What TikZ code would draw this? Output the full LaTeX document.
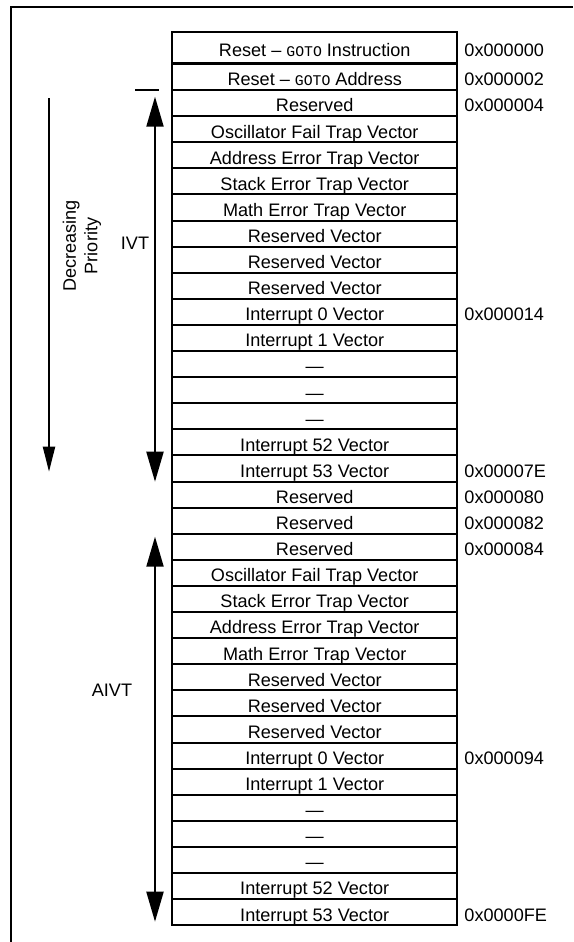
\documentclass[tikz,border=0pt]{standalone}
\usepackage{fontspec}
\setmainfont{Liberation Sans}
\newfontfamily\codefont{Liberation Mono}
\usetikzlibrary{arrows.meta}

\newcommand{\gotoword}{{\codefont\fontsize{7.4}{8}\selectfont GOTO}}

\tikzset{
	every node/.style={font=\fontsize{9.05}{10.8}\selectfont},
	slot/.style={draw, line width=1pt, minimum width=142.75pt, minimum height=13.05pt,
		inner sep=0pt, text height=9.5pt, text depth=0.65pt},
	addr/.style={anchor=west, inner sep=0pt, text height=9.5pt, text depth=0.65pt},
	span/.style={line width=1pt, {Triangle[length=15pt,width=8.5pt]}-{Triangle[length=15pt,width=8.5pt]}},
	prio/.style={line width=1pt, -{Triangle[length=12.5pt,width=6pt]}},
}

\begin{document}
\begin{tikzpicture}[x=0.5pt,y=-0.5pt]
	\useasboundingbox (0,0) rectangle (573,942);
	\draw[line width=1pt] (11,942) -- (11,6.7) -- (573,6.7);

	% interrupt vector table
	\node[slot, minimum height=15.8pt] (r1) at (314.7,47.8) {Reset -- \gotoword{} Instruction};
	\node[slot, minimum height=13.35pt] (r2) at (314.7,76.7) {Reset -- \gotoword{} Address};
	\node[slot] (r3) at (314.7,103.05) {Reserved};
	\node[slot] (r4) at (314.7,129.15) {Oscillator Fail Trap Vector};
	\node[slot] (r5) at (314.7,155.25) {Address Error Trap Vector};
	\node[slot] (r6) at (314.7,181.35) {Stack Error Trap Vector};
	\node[slot] (r7) at (314.7,207.45) {Math Error Trap Vector};
	\node[slot] (r8) at (314.7,233.55) {Reserved Vector};
	\node[slot] (r9) at (314.7,259.65) {Reserved Vector};
	\node[slot] (r10) at (314.7,285.75) {Reserved Vector};
	\node[slot] (r11) at (314.7,311.85) {Interrupt 0 Vector};
	\node[slot] (r12) at (314.7,337.95) {Interrupt 1 Vector};
	\node[slot] (r13) at (314.7,364.05) {\textemdash};
	\node[slot] (r14) at (314.7,390.15) {\textemdash};
	\node[slot] (r15) at (314.7,416.25) {\textemdash};
	\node[slot] (r16) at (314.7,442.35) {Interrupt 52 Vector};
	\node[slot] (r17) at (314.7,468.45) {Interrupt 53 Vector};
	\node[slot] (r18) at (314.7,494.55) {Reserved};
	\node[slot] (r19) at (314.7,520.65) {Reserved};

	% alternate interrupt vector table
	\node[slot] (r20) at (314.7,546.75) {Reserved};
	\node[slot] (r21) at (314.7,572.85) {Oscillator Fail Trap Vector};
	\node[slot] (r22) at (314.7,598.95) {Stack Error Trap Vector};
	\node[slot] (r23) at (314.7,625.05) {Address Error Trap Vector};
	\node[slot] (r24) at (314.7,651.15) {Math Error Trap Vector};
	\node[slot] (r25) at (314.7,677.25) {Reserved Vector};
	\node[slot] (r26) at (314.7,703.35) {Reserved Vector};
	\node[slot] (r27) at (314.7,729.45) {Reserved Vector};
	\node[slot] (r28) at (314.7,755.55) {Interrupt 0 Vector};
	\node[slot] (r29) at (314.7,781.65) {Interrupt 1 Vector};
	\node[slot] (r30) at (314.7,807.75) {\textemdash};
	\node[slot] (r31) at (314.7,833.85) {\textemdash};
	\node[slot] (r32) at (314.7,859.95) {\textemdash};
	\node[slot] (r33) at (314.7,886.05) {Interrupt 52 Vector};
	\node[slot] (r34) at (314.7,912.15) {Interrupt 53 Vector};

	% addresses
	\node[addr] (a1) at ([xshift=2.8pt]r1.east) {0x000000};
	\node[addr] (a2) at ([xshift=2.8pt]r2.east) {0x000002};
	\node[addr] (a3) at ([xshift=2.8pt]r3.east) {0x000004};
	\node[addr] (a11) at ([xshift=2.8pt]r11.east) {0x000014};
	\node[addr] (a17) at ([xshift=2.8pt]r17.east) {0x00007E};
	\node[addr] (a18) at ([xshift=2.8pt]r18.east) {0x000080};
	\node[addr] (a19) at ([xshift=2.8pt]r19.east) {0x000082};
	\node[addr] (a20) at ([xshift=2.8pt]r20.east) {0x000084};
	\node[addr] (a28) at ([xshift=2.8pt]r28.east) {0x000094};
	\node[addr] (a34) at ([xshift=2.8pt]r34.east) {0x0000FE};

	% spans and priority
	\draw[line width=1pt] (135,90) -- (159,90);
	\coordinate (ivt top) at (155,96.7);
	\coordinate (ivt bot) at (155,481.7);
	\coordinate (aivt top) at (155,536.7);
	\coordinate (aivt bot) at (155,921.7);
	\coordinate (prio top) at (49,98.3);
	\coordinate (prio bot) at (49,471.7);
	\draw[span] (ivt top) -- (ivt bot);
	\draw[span] (aivt top) -- (aivt bot);
	\draw[prio] (prio top) -- (prio bot);

	\node (ivt) at (135,243) {IVT};
	\node (aivt) at (112,690) {AIVT};
	\node[rotate=90, align=center] (prio) at (82,246) {Decreasing\\Priority};
\end{tikzpicture}
\end{document}
